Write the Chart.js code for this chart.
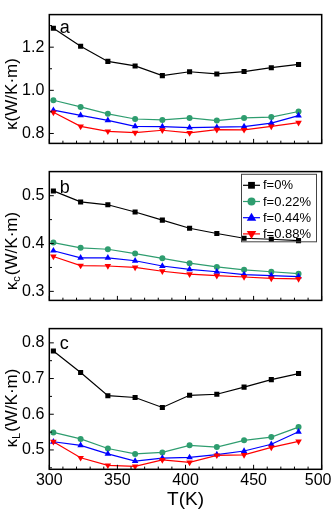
<!DOCTYPE html>
<html>
<head>
<meta charset="utf-8">
<script src="https://cdn.jsdelivr.net/npm/chart.js@4.4.0/dist/chart.umd.min.js"></script>
<style>
  html, body { margin: 0; padding: 0; background: #fff; }
  #wrap { position: relative; width: 333px; height: 511px; overflow: hidden; }
  .box { position: absolute; left: 0; width: 333px; }
</style>
</head>
<body>
<div id="wrap">
  <div class="box" style="top:0px;height:158px"><canvas id="ka"></canvas></div>
  <div class="box" style="top:157px;height:158px"><canvas id="kc"></canvas></div>
  <div class="box" style="top:314px;height:197px"><canvas id="kl"></canvas></div>
</div>
<script>
// temperatures (K)
const temps = [303, 323, 343, 363, 383, 403, 423, 443, 463, 483];
const fractions = ['f=0%', 'f=0.22%', 'f=0.44%', 'f=0.88%'];

// total thermal conductivity, panel a
const kTot0 = [1.288, 1.204, 1.134, 1.113, 1.068, 1.086, 1.076, 1.087, 1.105, 1.120];
const kTot22 = [0.954, 0.923, 0.891, 0.867, 0.863, 0.872, 0.860, 0.872, 0.876, 0.902];
const kTot44 = [0.908, 0.884, 0.861, 0.833, 0.832, 0.827, 0.829, 0.832, 0.848, 0.883];
const kTot88 = [0.898, 0.833, 0.810, 0.804, 0.815, 0.803, 0.818, 0.817, 0.833, 0.850];

// carrier part, panel b
const kC0 = [0.510, 0.487, 0.481, 0.466, 0.449, 0.432, 0.421, 0.411, 0.409, 0.406];
const kC22 = [0.402, 0.391, 0.388, 0.379, 0.369, 0.359, 0.351, 0.345, 0.341, 0.337];
const kC44 = [0.385, 0.370, 0.370, 0.364, 0.353, 0.346, 0.341, 0.335, 0.333, 0.331];
const kC88 = [0.373, 0.354, 0.353, 0.350, 0.342, 0.336, 0.333, 0.330, 0.327, 0.326];

// lattice part, panel c
const kL0 = [0.777, 0.717, 0.652, 0.647, 0.619, 0.653, 0.656, 0.676, 0.697, 0.714];
const kL22 = [0.549, 0.531, 0.504, 0.489, 0.493, 0.513, 0.508, 0.527, 0.536, 0.564];
const kL44 = [0.523, 0.513, 0.489, 0.469, 0.477, 0.479, 0.487, 0.497, 0.516, 0.551];
const kL88 = [0.523, 0.478, 0.457, 0.454, 0.472, 0.465, 0.485, 0.486, 0.507, 0.524];

// tick labels
const xTicks = [300, 350, 400, 450, 500];
const aTicks = [0.8, 1.0, 1.2];
const bTicks = [0.3, 0.4, 0.5];
const cTicks = [0.5, 0.6, 0.7, 0.8];

const FONT = '"Liberation Sans", Arial, sans-serif';
const looks = [
  { color: '#000000', style: 'rect', r: 3.6, rot: 0, lr: 4.8 },
  { color: '#2e9d6f', style: 'circle', r: 3, rot: 0, lr: 4 },
  { color: '#0000ff', style: 'triangle', r: 3.8, rot: 0, lr: 5 },
  { color: '#ff0000', style: 'triangle', r: 3.8, rot: 180, lr: 5 }
];

function marker(ctx, style, rot, r, x, y) {
  ctx.beginPath();
  if (style === 'circle') {
    ctx.arc(x, y, r, 0, Math.PI * 2);
  } else if (style === 'rect') {
    const s = r * Math.SQRT2 / 2;
    ctx.rect(x - s, y - s, s * 2, s * 2);
  } else {
    const d = rot ? -1 : 1;
    ctx.moveTo(x, y - d * r);
    ctx.lineTo(x + r * 0.95, y + d * r * 0.6);
    ctx.lineTo(x - r * 0.95, y + d * r * 0.6);
    ctx.closePath();
  }
  ctx.fill();
}

const frame = {
  id: 'frame',
  afterDraw(chart, args, o) {
    const { ctx, chartArea: a, scales: { x, y } } = chart;
    ctx.save();
    ctx.strokeStyle = '#000';
    ctx.lineWidth = 1;
    ctx.beginPath();
    for (let t = 300; t <= 500; t += 10) {
      const px = x.getPixelForValue(t);
      const len = t % 50 === 0 ? 4.5 : 2.7;
      ctx.moveTo(px, a.bottom);
      ctx.lineTo(px, a.bottom - len);
    }
    // major ticks at labels, minor halfway between
    const half = (o.yTicks[1] - o.yTicks[0]) / 2;
    const lo = o.yTicks[0] - half, hi = o.yTicks[o.yTicks.length - 1] + half;
    for (let v = lo; v <= hi + 1e-9; v += half) {
      const py = y.getPixelForValue(v);
      if (py < a.top + 1 || py > a.bottom - 1) continue;
      const major = o.yTicks.some(t => Math.abs(t - v) < 1e-6);
      ctx.moveTo(a.left, py);
      ctx.lineTo(a.left + (major ? 4.5 : 2.7), py);
    }
    ctx.stroke();
    ctx.lineWidth = 1.5;
    ctx.strokeRect(a.left, a.top, a.right - a.left, a.bottom - a.top);

    // panel letter
    ctx.fillStyle = '#000';
    ctx.font = '18px ' + FONT;
    ctx.textBaseline = 'alphabetic';
    ctx.textAlign = 'left';
    ctx.fillText(o.letter, a.left + 10.5, a.top + o.letterY);

    // y title with optional subscript
    ctx.save();
    ctx.translate(16.5, o.titleY);
    ctx.rotate(-Math.PI / 2);
    ctx.font = '17px ' + FONT;
    const w1 = ctx.measureText('κ').width;
    const w3 = ctx.measureText('(W/K·m)').width;
    ctx.font = '11px ' + FONT;
    const w2 = o.sub ? ctx.measureText(o.sub).width + 1 : 0;
    let tx = -(w1 + w2 + w3) / 2;
    ctx.font = '17px ' + FONT;
    ctx.fillText('κ', tx, 0);
    tx += w1;
    if (o.sub) {
      ctx.font = '11px ' + FONT;
      ctx.fillText(o.sub, tx, 3.5);
      tx += w2;
    }
    ctx.font = '17px ' + FONT;
    ctx.fillText('(W/K·m)', tx, 0);
    ctx.restore();

    // x tick labels (bottom panel only), last one kept inside the picture
    if (o.xLabels) {
      ctx.font = '16px ' + FONT;
      ctx.textAlign = 'center';
      xTicks.forEach(v => {
        const s = String(v);
        const w = ctx.measureText(s).width;
        let px = x.getPixelForValue(v);
        px = Math.min(px, chart.width - 1.5 - w / 2);
        ctx.fillText(s, px, a.bottom + 16);
      });
    }

    // legend (middle panel)
    if (o.legend) {
      const lx = 241, ly = a.top + 2.2;
      ctx.lineWidth = 1;
      ctx.strokeStyle = '#444';
      ctx.strokeRect(lx + 0.5, ly + 0.5, 75, 67.5);
      ctx.font = '13px ' + FONT;
      ctx.textAlign = 'left';
      ctx.textBaseline = 'middle';
      chart.data.datasets.forEach((ds, i) => {
        const yy = ly + 11.5 + i * 16.2;
        const lk = looks[i];
        ctx.strokeStyle = lk.color;
        ctx.fillStyle = lk.color;
        ctx.lineWidth = 1.2;
        ctx.beginPath();
        ctx.moveTo(lx + 2, yy);
        ctx.lineTo(lx + 19, yy);
        ctx.stroke();
        marker(ctx, lk.style, lk.rot, lk.lr, lx + 10.5, yy);
        ctx.fillStyle = '#000';
        ctx.fillText(ds.label, lx + 22, yy + 0.5);
      });
    }
    ctx.restore();
  }
};

function makePanel(id, series, yMin, yMax, yTicks, pad, extra) {
  const datasets = series.map((vals, i) => ({
    label: fractions[i],
    data: temps.map((t, k) => ({ x: t, y: vals[k] })),
    borderColor: looks[i].color,
    backgroundColor: looks[i].color,
    borderWidth: 1.2,
    pointStyle: looks[i].style,
    pointRotation: looks[i].rot,
    pointRadius: looks[i].r,
    pointBorderWidth: 0,
    pointBackgroundColor: looks[i].color,
    tension: 0,
    order: 3 - i
  }));
  const bottom = !!extra.xLabels;
  return new Chart(document.getElementById(id), {
    type: 'line',
    data: { datasets },
    options: {
      responsive: true,
      maintainAspectRatio: false,
      animation: false,
      layout: { padding: pad },
      plugins: {
        legend: { display: false },
        tooltip: { enabled: false },
        frame: Object.assign({ yTicks }, extra)
      },
      scales: {
        x: {
          type: 'linear',
          min: 300,
          max: 500,
          display: bottom,
          grid: { display: false, drawTicks: false, tickLength: 0 },
          border: { display: false },
          ticks: { display: false },
          title: {
            display: bottom,
            text: 'T(K)',
            color: '#000',
            font: { family: FONT, size: 19 },
            padding: 0
          },
          afterFit(s) { s.height = bottom ? 41.7 : 0; }
        },
        y: {
          type: 'linear',
          min: yMin,
          max: yMax,
          grid: { display: false, drawTicks: false, tickLength: 0 },
          border: { display: false },
          afterBuildTicks(s) { s.ticks = yTicks.map(v => ({ value: v })); },
          ticks: {
            color: '#000',
            padding: 5,
            font: { family: FONT, size: 16 },
            callback: v => v.toFixed(1)
          },
          afterFit(s) { s.width = 49.3; }
        }
      }
    },
    plugins: [frame]
  });
}

makePanel('ka', [kTot0, kTot22, kTot44, kTot88], 0.754, 1.351, aTicks,
  { top: 0.75, bottom: 0.7, left: 0, right: 11.3 },
  { letter: 'a', letterY: 18.5, titleY: 94 });
makePanel('kc', [kC0, kC22, kC44, kC88], 0.2811, 0.5504, bTicks,
  { top: 0.3, bottom: 0.7, left: 0, right: 11.3 },
  { letter: 'b', letterY: 21.5, titleY: 251 - 157, sub: 'c', legend: true });
makePanel('kl', [kL0, kL22, kL44, kL88], 0.4458, 0.8399, cTicks,
  { top: 0.3, bottom: 0, left: 0, right: 11.3 },
  { letter: 'c', letterY: 20.5, titleY: 408 - 314, sub: 'L', xLabels: true });
</script>
</body>
</html>
